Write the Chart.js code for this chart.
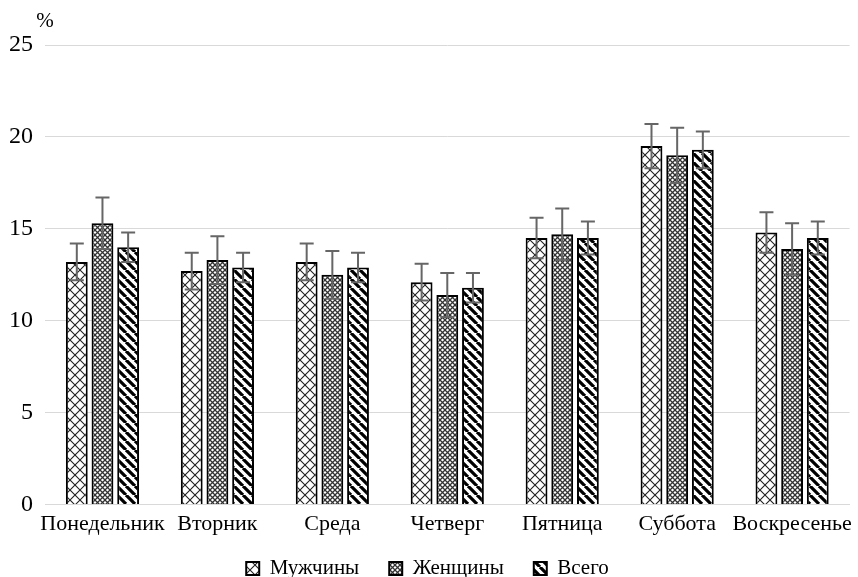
<!DOCTYPE html>
<html>
<head>
<meta charset="utf-8">
<script src="https://cdn.jsdelivr.net/npm/chart.js@4.4.0/dist/chart.umd.min.js"></script>
<style>
  body { margin: 0; background: #fff; }
  #wrap { width: 858px; height: 577px; }
</style>
</head>
<body>
<div id="wrap"><canvas id="chart"></canvas></div>
<script>
// Дни недели и значения (%)
const days = ["Понедельник", "Вторник", "Среда", "Четверг", "Пятница", "Суббота", "Воскресенье"];
const men = [13.2, 12.7, 13.2, 12.1, 14.5, 19.5, 14.8];
const women = [15.3, 13.3, 12.5, 11.4, 14.7, 19.0, 13.9];
const total = [14.0, 12.9, 12.9, 11.8, 14.5, 19.3, 14.5];
// Погрешности
const menErr = [1.0, 1.0, 1.0, 1.0, 1.1, 1.2, 1.1];
const womenErr = [1.4, 1.3, 1.3, 1.2, 1.4, 1.5, 1.4];
const totalErr = [0.8, 0.8, 0.8, 0.8, 0.9, 1.0, 0.9];
const yTicks = [0, 5, 10, 15, 20, 25];

const FONT = "'Liberation Serif', 'Times New Roman', serif";

// Штриховки
function makePattern(size, draw) {
    const c = document.createElement("canvas");
    c.width = size; c.height = size;
    const g = c.getContext("2d");
    g.fillStyle = "#fff";
    g.fillRect(0, 0, size, size);
    draw(g, size);
    return g.createPattern(c, "repeat");
}

const ctx = document.getElementById("chart").getContext("2d");

const patMen = makePattern(10, (g, s) => {
    g.strokeStyle = "#222";
    g.lineWidth = 1.1;
    g.beginPath();
    g.moveTo(0, 0); g.lineTo(s, s);
    g.moveTo(s, 0); g.lineTo(0, s);
    g.stroke();
});
const patWomen = makePattern(5, (g, s) => {
    g.strokeStyle = "#333";
    g.lineWidth = 1.3;
    g.beginPath();
    g.moveTo(0, 0); g.lineTo(s, s);
    g.moveTo(s, 0); g.lineTo(0, s);
    g.stroke();
});
const patTotal = makePattern(9, (g, s) => {
    g.strokeStyle = "#000";
    g.lineWidth = 3.2;
    g.beginPath();
    [-s, 0, s].forEach(k => { g.moveTo(k, 0); g.lineTo(k + s, s); });
    g.stroke();
});

// Планки погрешностей
const errorBars = {
    id: "errorBars",
    afterDatasetsDraw(chart) {
        const c = chart.ctx;
        const y = chart.scales.y;
        c.save();
        c.strokeStyle = "#666";
        c.lineWidth = 2;
        chart.data.datasets.forEach((ds, i) => {
            const meta = chart.getDatasetMeta(i);
            meta.data.forEach((bar, j) => {
                const v = ds.data[j], e = ds.errors[j];
                const top = y.getPixelForValue(v + e);
                const bot = y.getPixelForValue(v - e);
                c.beginPath();
                c.moveTo(bar.x, top); c.lineTo(bar.x, bot);
                c.moveTo(bar.x - 7, top); c.lineTo(bar.x + 7, top);
                c.moveTo(bar.x - 7, bot); c.lineTo(bar.x + 7, bot);
                c.stroke();
            });
        });
        c.restore();
    }
};

// Подпись "%"
const percentLabel = {
    id: "percentLabel",
    afterDraw(chart) {
        const c = chart.ctx;
        c.save();
        c.font = "21px " + FONT;
        c.fillStyle = "#000";
        c.textAlign = "center";
        c.textBaseline = "middle";
        c.fillText("%", chart.chartArea.left, chart.chartArea.top - 24);
        c.restore();
    }
};

// Легенда: большой горизонтальный отступ, но ниже по высоте
const legendShift = {
    id: "legendShift",
    afterLayout(chart) {
        chart.legend.top -= 15;
    }
};

new Chart(ctx, {
    type: "bar",
    data: {
        labels: days,
        datasets: [
            { label: "Мужчины", data: men, errors: menErr, backgroundColor: patMen, borderColor: "#000", borderWidth: 2 },
            { label: "Женщины", data: women, errors: womenErr, backgroundColor: patWomen, borderColor: "#000", borderWidth: 2 },
            { label: "Всего", data: total, errors: totalErr, backgroundColor: patTotal, borderColor: "#000", borderWidth: 2 }
        ]
    },
    options: {
        responsive: true,
        maintainAspectRatio: false,
        animation: false,
        categoryPercentage: 0.67,
        barPercentage: 0.85,
        layout: { padding: { top: 45, right: 3, left: 0, bottom: 0 } },
        plugins: {
            legend: {
                position: "bottom",
                maxHeight: 34,
                labels: {
                    font: { family: FONT, size: 21 },
                    color: "#000",
                    boxWidth: 13,
                    boxHeight: 13,
                    padding: 30
                }
            },
            tooltip: { enabled: false }
        },
        scales: {
            x: {
                grid: { display: false, drawTicks: false },
                border: { color: "#d9d9d9", width: 1 },
                ticks: { font: { family: FONT, size: 22 }, color: "#000", padding: 6, maxRotation: 0, autoSkip: false }
            },
            y: {
                min: 0,
                max: 25,
                afterBuildTicks: s => { s.ticks = yTicks.map(v => ({ value: v })); },
                afterFit: s => { s.width = 45; },
                grid: { color: "#d9d9d9", drawTicks: false },
                border: { display: false },
                ticks: { font: { family: FONT, size: 24 }, color: "#000", padding: 12 }
            }
        }
    },
    plugins: [errorBars, percentLabel, legendShift]
});
</script>
</body>
</html>
